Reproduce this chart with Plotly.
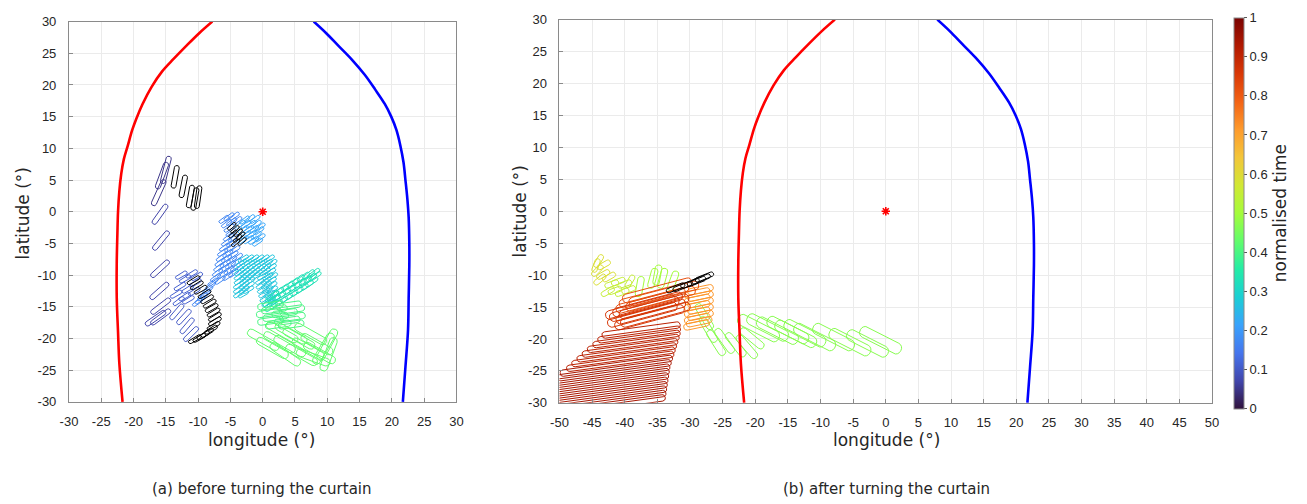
import math
import plotly.graph_objects as go
from plotly.colors import sample_colorscale

# ---------------- data ----------------
# curtain boundaries (lon, lat)
red_lon = [-7.8, -9.8, -11.8, -13.8, -15.6, -17.2, -18.6, -19.6, -20.2, -20.9, -21.5, -21.9, -22.2,
           -22.4, -22.5, -22.6, -22.6, -22.4, -22.2, -21.7]
red_lat = [30.0, 28.2, 26.2, 24.1, 22.1, 19.7, 17.0, 14.6, 12.9, 10.4, 8.3, 6.0, 3.2,
           0.0, -3.4, -8.0, -13.6, -19.0, -23.9, -30.0]
blue_lon = [7.9, 9.8, 11.7, 13.8, 15.8, 17.4, 18.9, 19.9, 20.7, 21.3, 21.8, 22.1, 22.4,
            22.6, 22.7, 22.7, 22.6, 22.5, 22.1, 21.7]
blue_lat = [30.0, 28.2, 26.2, 24.0, 21.6, 19.3, 17.0, 15.0, 12.9, 10.5, 7.8, 5.0, 2.0,
            -0.9, -5.0, -8.5, -13.6, -18.7, -24.5, -30.0]
star_lon = [0.0]
star_lat = [0.0]

# footprints: (lon, lat, heading deg[, length])
# ---- panel (a) ----
a_purple_top = [(-15.0, 6.6, 76), (-15.6, 5.7, 70), (-16.1, 3.0, 66)]
a_purple_col = [(-15.9, -0.4, 55), (-15.75, -4.55, 51), (-15.9, -9.0, 43), (-16.0, -12.5, 42),
                (-15.8, -14.9, 38), (-15.8, -16.6, 37), (-16.6, -16.8, 35)]
a_purple_low = [(-13.3, -15.8, 50), (-12.2, -16.6, 48), (-11.7, -18.0, 50), (-11.1, -19.3, 45)]
a_blue_small = [(-11.0, -9.8, 30), (-12.0, -10.6, 30), (-10.4, -11.2, 30), (-12.8, -11.8, 30),
                (-11.6, -12.2, 30), (-13.4, -13.0, 30), (-12.1, -13.4, 30), (-10.6, -12.6, 30),
                (-13.0, -14.1, 35), (-11.5, -13.9, 30), (-10.2, -10.2, 30), (-12.6, -10.0, 30)]
a_blue_band = [(-6.0, -1.2, 35), (-5.2, -0.8, 35), (-4.4, -0.7, 35), (-5.6, -1.9, 35), (-4.8, -1.6, 35),
               (-4.0, -1.4, 35), (-5.2, -2.6, 35), (-4.9, -3.3, 35), (-5.3, -4.0, 35), (-4.5, -4.2, 35),
               (-5.6, -4.8, 35), (-4.8, -5.0, 35), (-5.9, -5.6, 35), (-5.1, -5.8, 35), (-4.3, -6.0, 35),
               (-6.2, -6.4, 35), (-5.4, -6.6, 35), (-4.6, -6.8, 35), (-3.9, -7.2, 35), (-6.4, -7.2, 35),
               (-5.6, -7.4, 35), (-4.8, -7.6, 35), (-4.1, -8.0, 35), (-6.6, -8.0, 35), (-5.8, -8.2, 35),
               (-5.0, -8.4, 35), (-4.2, -8.8, 35), (-6.8, -8.8, 35), (-6.0, -9.0, 35), (-5.2, -9.3, 35),
               (-4.5, -9.7, 35), (-7.0, -9.6, 35), (-6.2, -9.9, 35), (-5.4, -10.2, 35), (-7.3, -10.4, 35),
               (-6.6, -10.8, 35), (-7.7, -11.1, 35), (-8.1, -11.7, 35), (-8.5, -12.3, 35),
               (-8.9, -12.9, 35), (-9.3, -13.4, 35), (-9.7, -13.9, 35), (-10.1, -14.3, 35)]
a_lightblue = [(-2.8, -1.3, 35), (-2.0, -1.1, 35), (-1.2, -1.2, 35), (-3.4, -2.0, 35), (-2.6, -2.0, 35),
               (-1.8, -2.0, 35), (-1.0, -2.0, 35), (-0.4, -2.4, 35), (-3.0, -2.8, 35), (-2.2, -2.8, 35),
               (-1.4, -2.8, 35), (-0.6, -3.0, 35), (-2.6, -3.6, 35), (-1.8, -3.6, 35), (-1.0, -3.7, 35),
               (-0.4, -4.1, 35), (-2.2, -4.4, 35), (-1.4, -4.5, 35), (-3.0, -4.4, 35), (-0.8, -4.8, 35)]
a_cyan = [(-3.0, -7.4, 30), (-2.2, -7.4, 30), (-1.4, -7.4, 30), (-0.6, -7.4, 30), (0.2, -7.4, 30),
          (1.0, -7.4, 30),
          (-3.3, -8.1, 30), (-2.5, -8.1, 30), (-1.7, -8.1, 30), (-0.9, -8.1, 30), (-0.1, -8.1, 30),
          (0.7, -8.1, 30), (1.4, -8.1, 30),
          (-3.5, -8.8, 30), (-2.7, -8.8, 30), (-1.9, -8.8, 30), (-1.1, -8.8, 30), (-0.3, -8.8, 30),
          (0.5, -8.8, 30), (1.3, -8.8, 30),
          (-3.6, -9.5, 30), (-2.8, -9.5, 30), (-2.0, -9.5, 30), (-1.2, -9.5, 30), (-0.4, -9.5, 30),
          (0.4, -9.5, 30), (1.2, -9.5, 30),
          (-3.6, -10.2, 30), (-2.8, -10.2, 30), (-2.0, -10.2, 30), (-1.2, -10.2, 30), (0.0, -10.2, 30),
          (0.8, -10.2, 30), (1.5, -10.2, 30),
          (-3.6, -10.9, 30), (-2.8, -10.9, 30), (-2.0, -10.9, 30), (-0.3, -10.9, 30), (0.5, -10.9, 30),
          (1.3, -10.9, 30),
          (-3.7, -11.6, 30), (-2.9, -11.6, 30), (-2.1, -11.6, 30), (-0.2, -11.6, 30), (0.6, -11.6, 30),
          (1.4, -11.6, 30),
          (-3.7, -12.3, 30), (-2.9, -12.3, 30), (-2.2, -12.3, 30), (0.0, -12.3, 30), (0.8, -12.3, 30),
          (1.5, -12.3, 30),
          (-3.7, -13.0, 30), (-3.0, -13.0, 30), (0.2, -13.0, 30), (1.0, -13.0, 30), (1.7, -13.0, 30),
          (0.4, -13.7, 30), (1.2, -13.7, 30), (1.9, -13.7, 30), (0.7, -14.4, 30), (1.5, -14.4, 30)]
a_teal = [(1.5, -13.2, 35), (2.3, -12.7, 35), (3.1, -12.2, 35), (3.9, -11.7, 35), (4.7, -11.2, 35),
          (5.5, -10.7, 35), (6.3, -10.3, 35), (7.1, -9.9, 35), (7.9, -9.7, 35),
          (1.0, -14.2, 35), (1.8, -13.8, 35), (2.6, -13.3, 35), (3.4, -12.8, 35), (4.2, -12.3, 35),
          (5.0, -11.8, 35), (5.8, -11.3, 35), (6.6, -10.9, 35), (7.4, -10.5, 35), (8.1, -10.2, 35),
          (1.3, -15.0, 35), (2.1, -14.6, 35), (2.9, -14.1, 35), (3.7, -13.6, 35), (4.5, -13.1, 35),
          (5.3, -12.6, 35), (6.1, -12.1, 35), (6.9, -11.6, 35), (7.6, -11.1, 35)]
a_green1 = [(1.2, -14.8, 8), (4.0, -14.8, 8), (1.8, -15.4, 8), (4.5, -15.4, 8), (1.0, -16.0, 8),
            (3.4, -16.0, 8), (2.0, -16.6, 8), (4.6, -16.6, 8), (1.2, -17.2, 8), (3.8, -17.2, 8),
            (2.4, -17.8, 8), (4.4, -17.8, 8)]
a_green2 = [(0.1, -20.2, -30), (2.6, -20.6, -30), (4.2, -21.2, -30), (5.6, -20.0, -30), (7.0, -21.6, -30),
            (6.0, -22.6, -30), (8.4, -20.9, -30), (8.8, -22.3, -30), (4.4, -19.2, -30), (7.4, -19.3, -30),
            (3.0, -19.0, -30), (1.5, -21.5, -30), (3.5, -22.5, -35), (7.8, -23.0, -20),
            (10.0, -21.0, 62), (9.4, -21.6, 60), (10.2, -22.5, 70)]
a_black_top = [(-13.55, 5.5, 80), (-12.3, 4.0, 79), (-11.2, 2.4, 80), (-10.5, 2.0, 80), (-10.0, 2.3, 82)]
a_black_mid = [(-4.8, -2.3, 40), (-4.3, -2.8, 40), (-3.8, -3.3, 40), (-3.4, -3.8, 40), (-4.6, -3.5, 40),
               (-3.9, -4.2, 40), (-3.2, -4.7, 40), (-4.2, -4.9, 40)]
a_black_bot = [(-10.7, -10.8, 30), (-10.2, -11.6, 30), (-9.6, -12.3, 30), (-9.0, -13.0, 30),
               (-8.6, -13.8, 30), (-8.2, -14.5, 30), (-7.9, -15.2, 30), (-7.6, -15.9, 30),
               (-7.4, -16.6, 30), (-7.4, -17.3, 30), (-7.6, -18.0, 30), (-8.0, -18.6, 30),
               (-8.6, -19.1, 30), (-9.2, -19.5, 30), (-9.8, -19.9, 30), (-10.5, -20.1, 30)]

# ---- panel (b) ----
b_yellow = [(-44.0, -7.8, 60), (-43.2, -8.4, 30), (-44.2, -9.3, 45), (-43.3, -9.9, 30),
            (-42.4, -10.3, 30), (-43.8, -10.7, 40), (-44.4, -8.5, 70)]
b_yelgreen = [(-42.0, -11.4, 20), (-41.0, -11.0, 20), (-40.0, -11.4, 20), (-39.2, -11.0, 60),
              (-41.5, -12.4, 20), (-40.4, -12.7, 20), (-39.4, -12.3, 20), (-42.6, -12.6, 30)]
b_lightgreen = [(-37.7, -11.8, 80), (-35.7, -10.5, 75), (-34.2, -10.5, 75), (-32.6, -10.9, 70),
                (-35.0, -10.0, 80)]
b_green_steep = [(-27.8, -16.5, -60), (-27.2, -18.5, -60), (-26.0, -20.6, -58), (-24.7, -20.3, -55),
                 (-23.0, -20.9, -52), (-21.3, -21.2, -50), (-20.5, -19.9, -40)]
b_green_long = [(-0.8, -20.2, -28), (-2.8, -20.7, -28), (-5.5, -20.5, -28), (-8.0, -19.7, -28),
                (-10.9, -19.7, -28), (-13.8, -19.2, -28), (-16.6, -18.7, -28), (-18.1, -18.2, -28),
                (-15.0, -18.6, -28), (-12.4, -19.1, -28), (-19.5, -18.3, -28)]
b_orange = [(-28.4, -12.3, 12), (-28.9, -12.8, 12), (-28.4, -13.3, 12), (-28.9, -13.8, 12),
            (-28.4, -14.3, 12), (-28.9, -14.8, 12), (-28.4, -15.3, 12), (-28.9, -15.8, 12),
            (-28.4, -16.3, 12), (-28.9, -16.8, 12), (-28.6, -17.3, 12), (-29.0, -17.8, 12)]
b_redorange1 = [(-35.0, -12.4, 15), (-34.0, -12.9, 15), (-35.5, -13.2, 15), (-34.5, -13.7, 15),
                (-36.0, -14.0, 15)]
b_redorange2 = [(-36.5, -14.6, 15), (-35.5, -14.9, 15), (-37.0, -15.3, 15), (-36.0, -15.7, 15),
                (-37.3, -16.2, 15), (-36.2, -16.6, 15), (-35.3, -16.2, 15), (-37.6, -15.0, 15)]
b_darkred1 = [(-37.5, -18.6, 8, 12.1), (-37.8, -19.3, 8, 12.8), (-38.2, -20.0, 8, 13.5),
              (-38.7, -20.7, 8, 14.2), (-39.2, -21.4, 8, 14.8), (-39.7, -22.1, 8, 15.4),
              (-40.2, -22.8, 8, 16.0), (-40.7, -23.5, 8, 16.6)]
b_darkred2 = [(-41.3, -24.2, 8, 17.4), (-41.6, -24.9, 8, 17.6), (-41.9, -25.6, 8, 17.8),
              (-42.1, -26.3, 8, 18.0), (-42.3, -27.0, 8, 18.2), (-42.5, -27.7, 8, 18.4),
              (-42.7, -28.4, 8, 18.6), (-42.9, -29.1, 8, 18.8), (-43.1, -29.8, 8, 19.0),
              (-43.3, -30.5, 8, 19.2)]
b_black = [(-27.8, -10.3, 22), (-28.3, -10.6, 22), (-29.0, -11.0, 22), (-30.0, -11.3, 22),
           (-31.2, -11.8, 22), (-32.2, -12.0, 22)]

x_ticks_a = list(range(-30, 31, 5))
x_ticks_b = list(range(-50, 51, 5))
y_ticks = list(range(-30, 31, 5))
cbar_ticks = [0, 0.1, 0.2, 0.3, 0.4, 0.5, 0.6, 0.7, 0.8, 0.9, 1]
cbar_text = ["0", "0.1", "0.2", "0.3", "0.4", "0.5", "0.6", "0.7", "0.8", "0.9", "1"]

# groups: (footprints, normalised time or None for black, length, width)
groups_a = [
    (a_purple_top, 0.05, 4.4, 0.8), (a_purple_col, 0.07, 3.7, 0.75), (a_purple_low, 0.10, 3.0, 0.7),
    (a_blue_small, 0.11, 2.0, 0.6), (a_blue_band, 0.17, 1.8, 0.55), (a_lightblue, 0.22, 1.8, 0.55),
    (a_cyan, 0.27, 1.8, 0.55), (a_teal, 0.33, 2.2, 0.6), (a_green1, 0.40, 4.0, 1.0),
    (a_green2, 0.43, 5.5, 1.2),
    (a_black_top, None, 3.6, 0.75), (a_black_mid, None, 1.6, 0.5), (a_black_bot, None, 2.2, 0.6),
]
groups_b = [
    (b_green_long, 0.47, 7.0, 1.8), (b_green_steep, 0.47, 4.5, 1.1), (b_lightgreen, 0.50, 3.2, 1.0),
    (b_yelgreen, 0.55, 2.2, 0.8), (b_yellow, 0.59, 2.2, 0.8), (b_orange, 0.72, 4.0, 1.0),
    (b_redorange1, 0.82, 11.0, 1.4), (b_redorange2, 0.86, 11.0, 1.4),
    (b_darkred1, 0.91, 12.0, 1.0), (b_darkred2, 0.94, 12.0, 1.0),
    (b_black, None, 3.0, 0.7),
]


def outline(lon, lat, ang, L, W):
    r = W * 0.45
    hl, hw = L / 2 - r, W / 2 - r
    pts = []
    for cx, cy, a0 in [(hl, hw, 0), (-hl, hw, 90), (-hl, -hw, 180), (hl, -hw, 270)]:
        for k in range(5):
            a = math.radians(a0 + k * 22.5)
            pts.append((cx + r * math.cos(a), cy + r * math.sin(a)))
    pts.append(pts[0])
    c, s = math.cos(math.radians(ang)), math.sin(math.radians(ang))
    return ([lon + p * c - q * s for p, q in pts], [lat + p * s + q * c for p, q in pts])


fig = go.Figure()


def add_groups(groups, xa, ya):
    for fps, t, L, W in groups:
        xs, ys = [], []
        for fp in fps:
            lon, lat, ang = fp[:3]
            length = fp[3] if len(fp) > 3 else L
            ox, oy = outline(lon, lat, ang, length, W)
            xs += ox + [None]
            ys += oy + [None]
        col = "black" if t is None else sample_colorscale("Turbo", [t])[0]
        fig.add_trace(go.Scatter(x=xs, y=ys, mode="lines", line=dict(color=col, width=1),
                                 xaxis=xa, yaxis=ya, showlegend=False, hoverinfo="skip"))


for xa, ya, groups in [("x", "y", groups_a), ("x2", "y2", groups_b)]:
    add_groups(groups, xa, ya)
    fig.add_trace(go.Scatter(x=red_lon, y=red_lat, mode="lines",
                             line=dict(color="#ff0000", width=2.6, shape="spline", smoothing=1.0),
                             xaxis=xa, yaxis=ya, showlegend=False))
    fig.add_trace(go.Scatter(x=blue_lon, y=blue_lat, mode="lines",
                             line=dict(color="#0000ff", width=2.6, shape="spline", smoothing=1.0),
                             xaxis=xa, yaxis=ya, showlegend=False))
    fig.add_trace(go.Scatter(x=star_lon, y=star_lat, mode="markers",
                             marker=dict(symbol="asterisk-open", size=7, color="#ff0000",
                                         line=dict(color="#ff0000", width=1.6)),
                             xaxis=xa, yaxis=ya, showlegend=False))

W, H = 1307, 504

cbar = dict(
    x=1240 / W, xanchor="left", xpad=0, ypad=0,
    y=1 - 212.5 / H, yanchor="middle",
    len=391, lenmode="pixels", thickness=10,
    outlinewidth=1, outlinecolor="#8a8a8a",
    tickvals=cbar_ticks, ticktext=cbar_text,
    ticks="outside", ticklen=3, tickcolor="#555",
    tickfont=dict(family="Liberation Sans", size=13, color="#262626"),
    title=dict(text="normalised time", side="right",
               font=dict(family="DejaVu Sans", size=17, color="#262626")),
)
cmarker = dict(colorscale="Turbo", cmin=0, cmax=1, color=[0.5], showscale=True, colorbar=cbar)
fig.add_trace(go.Scatter(x=[None], y=[None], mode="markers", xaxis="x2", yaxis="y2",
                         showlegend=False, marker=cmarker))

axcommon = dict(showgrid=True, gridcolor="#ebebeb", gridwidth=1, zeroline=False, showline=True,
                linecolor="#8a8a8a", linewidth=1, mirror=True, ticks="inside", ticklen=4,
                tickcolor="#8a8a8a", tickfont=dict(family="Liberation Sans", size=13, color="#262626"))

fig.update_layout(
    width=W, height=H, margin=dict(l=0, r=0, t=0, b=0),
    paper_bgcolor="white", plot_bgcolor="white",
    xaxis=dict(domain=[60.7 / W, 453 / W], range=[-30, 30], tickvals=x_ticks_a,
               ticktext=[str(v) for v in x_ticks_a], anchor="y", ticklabelstandoff=8, **axcommon),
    yaxis=dict(domain=[1 - 407 / H, 1 - 15 / H], range=[-30, 30], tickvals=y_ticks,
               ticktext=[str(v) for v in y_ticks], anchor="x", ticklabelstandoff=9, **axcommon),
    xaxis2=dict(domain=[557.3 / W, 1218 / W], range=[-50, 50], tickvals=x_ticks_b,
                ticktext=[str(v) for v in x_ticks_b], anchor="y2", ticklabelstandoff=8, **axcommon),
    yaxis2=dict(domain=[1 - 408 / H, 1 - 13 / H], range=[-30, 30], tickvals=y_ticks,
                ticktext=[str(v) for v in y_ticks], anchor="x2", ticklabelstandoff=9, **axcommon),
)

tfont = dict(family="DejaVu Sans", size=17, color="#262626")
cfont = dict(family="DejaVu Sans", size=15, color="#262626")
ann = [
    ("latitude (°)", 14, 213, -90, tfont),
    ("latitude (°)", 517, 211, -90, tfont),
    ("longitude (°)", 256, 446, 0, tfont),
    ("longitude (°)", 888, 446, 0, tfont),
    ("(a) before turning the curtain", 256, 497, 0, cfont),
    ("(b) after turning the curtain", 888, 497, 0, cfont),
]
for text, px, py, ang, f in ann:
    fig.add_annotation(text=text, x=px / W, y=1 - py / H, xref="paper", yref="paper",
                       xanchor="center", yanchor="middle", showarrow=False, textangle=ang, font=f)

fig.write_html("out.html")
